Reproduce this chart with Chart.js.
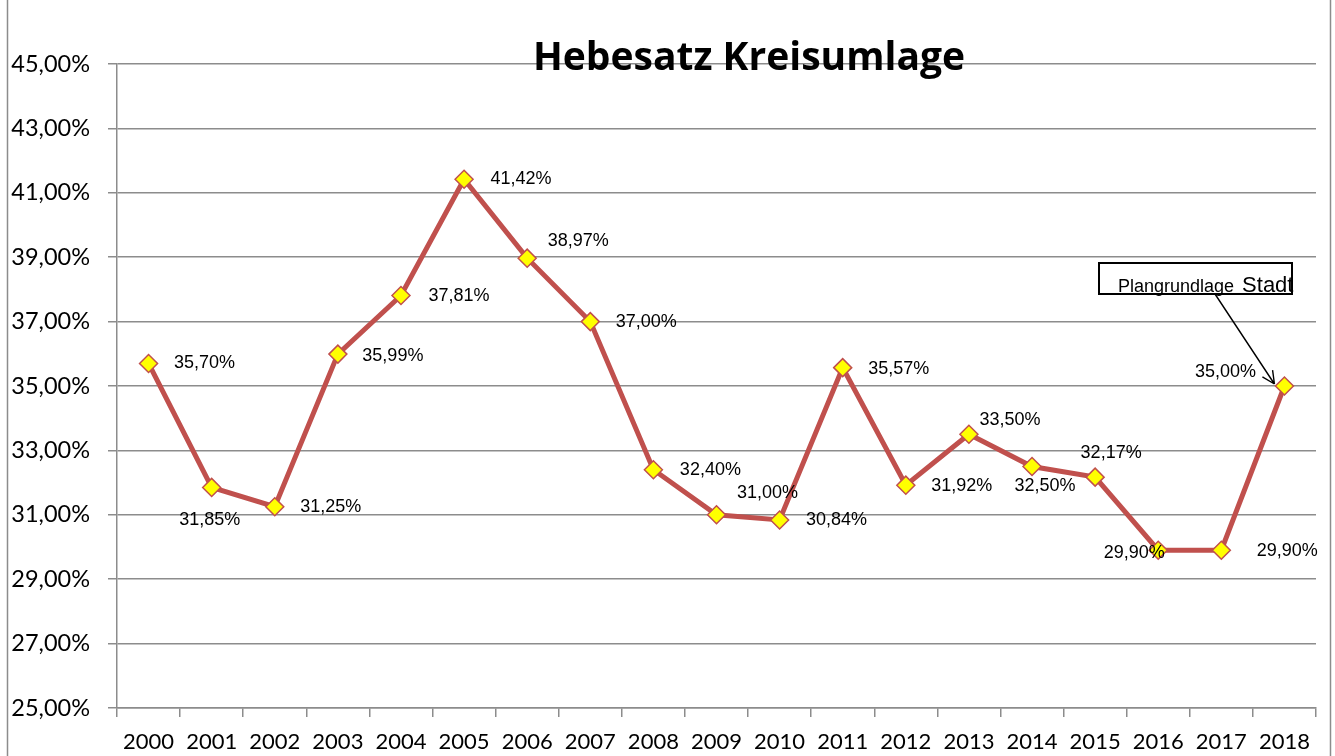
<!DOCTYPE html>
<html>
<head>
<meta charset="utf-8">
<script src="https://cdn.jsdelivr.net/npm/chart.js@4.4.0/dist/chart.umd.min.js"></script>
<style>
    html, body { margin: 0; padding: 0; background: #ffffff; }
    #wrap { width: 1335px; height: 756px; position: relative; }
</style>
</head>
<body>
<div id="wrap"><canvas id="chart"></canvas></div>
<script>
// Data
const years = ['2000', '2001', '2002', '2003', '2004', '2005', '2006', '2007', '2008', '2009',
               '2010', '2011', '2012', '2013', '2014', '2015', '2016', '2017', '2018'];
const hebesatz = [35.70, 31.85, 31.25, 35.99, 37.81, 41.42, 38.97, 37.00, 32.40, 31.00,
                  30.84, 35.57, 31.92, 33.50, 32.50, 32.17, 29.90, 29.90, 35.00];
const chartTitle = 'Hebesatz Kreisumlage';
const noteLabel = ['Plangrundlage', 'Stadt'];

// where each data label sits relative to its point (dx, dy)
const labelOffsets = [
    [56, 0], [-2, 33], [56, 0], [55, 2], [58, 1], [57, 0], [51, -17], [56, 0], [57, 0], [51, -22],
    [57, 0], [56, 1], [56, 1], [41, -14], [13, 20], [16, -24], [-24, 3], [66, 1], [-59, -14]
];

function fmtPct(v) {
    return v.toFixed(2).replace('.', ',') + '%';
}

// Draw title, frame, data labels and the annotation box
const decorations = {
    id: 'decorations',
    afterDatasetsDraw(chart) {
        const ctx = chart.ctx;
        const meta = chart.getDatasetMeta(0);
        ctx.save();

        // outer frame lines
        ctx.strokeStyle = '#8c8c8c';
        ctx.lineWidth = 1.5;
        ctx.beginPath();
        ctx.moveTo(7.5, 0); ctx.lineTo(7.5, 756);
        ctx.moveTo(1330.5, 0); ctx.lineTo(1330.5, 756);
        ctx.stroke();

        // data labels
        ctx.fillStyle = '#000000';
        ctx.font = '18px "Liberation Sans", Arial, sans-serif';
        ctx.textAlign = 'center';
        ctx.textBaseline = 'middle';
        meta.data.forEach((pt, i) => {
            const off = labelOffsets[i];
            ctx.fillText(fmtPct(hebesatz[i]), pt.x + off[0], pt.y + off[1]);
        });

        // title
        ctx.font = 'bold 39px "Open Sans", Lato, sans-serif';
        ctx.fillText(chartTitle, 749, 59);

        // annotation box
        ctx.strokeStyle = '#000000';
        ctx.lineWidth = 2;
        ctx.strokeRect(1099, 263, 193, 31);
        ctx.textAlign = 'left';
        ctx.textBaseline = 'alphabetic';
        ctx.font = '18px "Liberation Sans", Arial, sans-serif';
        ctx.fillText(noteLabel[0], 1118, 292);
        const w = ctx.measureText(noteLabel[0] + ' ').width;
        ctx.font = '22px "Liberation Sans", Arial, sans-serif';
        ctx.fillText(noteLabel[1], 1121 + w, 292);

        // arrow to the last point
        const last = meta.data[meta.data.length - 1];
        const sx = 1215, sy = 294;
        const ex = last.x - 10, ey = last.y - 2;
        ctx.lineWidth = 1.4;
        ctx.beginPath();
        ctx.moveTo(sx, sy);
        ctx.lineTo(ex, ey);
        const ang = Math.atan2(ey - sy, ex - sx);
        const head = 14;
        ctx.moveTo(ex, ey);
        ctx.lineTo(ex - head * Math.cos(ang - 0.45), ey - head * Math.sin(ang - 0.45));
        ctx.moveTo(ex, ey);
        ctx.lineTo(ex - head * Math.cos(ang + 0.45), ey - head * Math.sin(ang + 0.45));
        ctx.stroke();

        ctx.restore();
    }
};

const ctx = document.getElementById('chart').getContext('2d');
const chart = new Chart(ctx, {
    type: 'line',
    data: {
        labels: years,
        datasets: [{
            data: hebesatz,
            borderColor: '#c0504d',
            borderWidth: 5,
            tension: 0,
            pointStyle: 'rectRot',
            pointRadius: 9,
            pointBackgroundColor: '#ffff00',
            pointBorderColor: '#c0504d',
            pointBorderWidth: 1.5
        }]
    },
    options: {
        responsive: true,
        maintainAspectRatio: false,
        animation: false,
        layout: {
            padding: { top: 64, right: 19, bottom: 0, left: 0 }
        },
        plugins: {
            legend: { display: false },
            title: { display: false },
            tooltip: { enabled: false }
        },
        scales: {
            x: {
                offset: true,
                grid: {
                    offset: true,
                    drawOnChartArea: false,
                    drawTicks: true,
                    tickLength: 9,
                    color: '#8c8c8c',
                    lineWidth: 1.5
                },
                border: { color: '#8c8c8c', width: 1.5 },
                ticks: {
                    color: '#000000',
                    font: { family: 'Lato, "Open Sans", sans-serif', size: 22 },
                    padding: 12,
                    maxRotation: 0,
                    autoSkip: false
                },
                afterFit(scale) { scale.height = 48; }
            },
            y: {
                min: 25,
                max: 45,
                grid: {
                    color: '#8c8c8c',
                    lineWidth: 1.5,
                    drawTicks: true,
                    tickLength: 9
                },
                border: { color: '#8c8c8c', width: 1.5 },
                ticks: {
                    stepSize: 2,
                    color: '#000000',
                    font: { family: 'Lato, "Open Sans", sans-serif', size: 23.5 },
                    padding: 18,
                    callback: v => fmtPct(v)
                },
                afterFit(scale) { scale.width = 117; }
            }
        }
    },
    plugins: [decorations]
});
</script>
</body>
</html>
